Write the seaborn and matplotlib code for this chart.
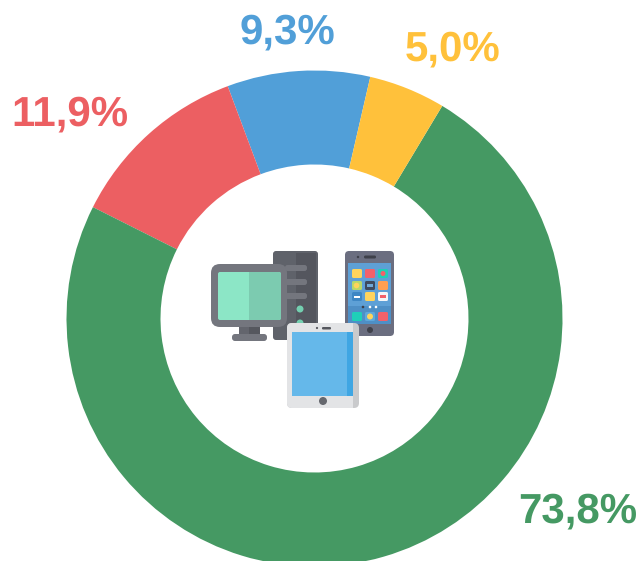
import matplotlib
matplotlib.use("Agg")
import matplotlib.pyplot as plt
from matplotlib.patches import Rectangle, FancyBboxPatch, Circle
import seaborn as sns

sns.set_theme(style="white")
plt.rcParams['font.family'] = ['Liberation Sans', 'DejaVu Sans']
plt.rcParams['text.hinting'] = 'none'
plt.rcParams['text.hinting_factor'] = 1

labels = ["9,3%", "11,9%", "73,8%", "5,0%"]
values = [9.3, 11.9, 73.8, 5.0]
colors = ["#519FD8", "#EC5F62", "#459963", "#FFC13B"]
label_pos = [(287, 33), (70, 115), (578, 512), (453, 50)]

W, H = 641, 561
fig = plt.figure(figsize=(W/100, H/100), dpi=100)
ax = fig.add_axes([0, 0, 1, 1])

cx, cy, r = 314.5, 318.5, 248
# y axis is inverted below, so the wedges run counter-clockwise on screen
ax.pie(values, colors=colors, startangle=-77, counterclock=False, center=(cx, cy), radius=r,
       wedgeprops=dict(width=r-154, edgecolor="none"), frame=False)
ax.set_xlim(0, W); ax.set_ylim(H, 0); ax.set_aspect("equal"); ax.axis("off")

for t, (x, y), c in zip(labels, label_pos, colors):
    ax.text(x, y, t, color=c, fontsize=30.3, fontweight="bold", ha="center", va="center")

def box(x0, y0, x1, y1, c, rad=3, z=5):
    ax.add_patch(FancyBboxPatch((x0+rad, y0+rad), x1-x0-2*rad, y1-y0-2*rad,
                                boxstyle=f"round,pad={rad}", fc=c, ec="none", zorder=z))

def rect(x0, y0, x1, y1, c, z=5):
    ax.add_patch(Rectangle((x0, y0), x1-x0, y1-y0, fc=c, ec="none", zorder=z))

def dot(x, y, rad, c, z=5):
    ax.add_patch(Circle((x, y), rad, fc=c, ec="none", zorder=z))

# tower
box(273, 251, 318, 340, "#5F626A", 3, 5)
rect(296, 253, 316, 338, "#54565E", 5)
for y0 in (265, 279, 293):
    box(285, y0, 307, y0+6, "#74767E", 2.5, 6)
dot(300, 309, 3.5, "#74CFB0", 6)
dot(300, 323, 3.5, "#74CFB0", 6)

# monitor
rect(239, 325, 260, 336, "#55575E", 5)
rect(239, 325, 249, 336, "#63656D", 5)
box(232, 334, 267, 341, "#74767E", 3, 5)
box(211, 264, 287, 327, "#74767E", 9, 6)
box(218, 272, 281, 320, "#8CE6C6", 2, 7)
box(249, 272, 281, 320, "#7CCBB0", 2, 7)
rect(249, 272, 253, 320, "#7CCBB0", 7)

# phone
box(345, 251, 394, 336, "#6B6E80", 4, 5)
rect(348, 263, 391, 324, "#5EA0D6", 6)
rect(348, 306, 391, 324, "#4E8FC6", 6)
dot(358, 257, 1.2, "#3E404A", 7)
box(364, 255.5, 376, 258.5, "#3E404A", 1.4, 7)
dot(370, 330, 3, "#3E404A", 7)
row_y = (269, 281, 292, 312)
col_x = (352, 365, 378)
icon_c = ["#FFD45C", "#F2616A", "#1FCFB8",
          "#B8D86A", "#3E4A5E", "#FF9F50",
          "#3F87C4", "#FFD45C", "#F4F6F8",
          "#1FCFB8", "#5EA8DC", "#F2616A"]
k = 0
for y0 in row_y:
    for x0 in col_x:
        box(x0, y0, x0+10, y0+9, icon_c[k], 1.5, 7)
        k += 1
dot(383, 273.5, 2.5, "#F2616A", 8)
dot(356.5, 285.5, 2.8, "#FFD45C", 8)
rect(367, 284, 373, 287, "#6FA8D8", 8)
rect(354, 295.5, 360, 298, "#FFFFFF", 8)
rect(380, 295, 386, 298, "#F2616A", 8)
dot(370, 316.5, 3, "#FFD45C", 8)
dot(363, 307, 1.3, "#3E404A", 7)
dot(370, 307, 1.3, "#FFFFFF", 7)
dot(376, 307, 1.3, "#FFFFFF", 7)

# tablet
box(287, 323, 359, 408, "#C9CACC", 5, 8)
box(287, 323, 353, 408, "#E3E4E6", 5, 8)
rect(345, 323, 353, 408, "#E3E4E6", 8)
rect(292, 332, 353, 396, "#65B8EA", 9)
rect(347, 332, 353, 396, "#3FA6E3", 9)
dot(323, 401, 4, "#66686E", 9)
dot(317, 328, 1.1, "#55575E", 9)
box(322, 327, 331, 329.5, "#55575E", 1.1, 9)

fig.savefig("out.png", dpi=100, facecolor="white")
